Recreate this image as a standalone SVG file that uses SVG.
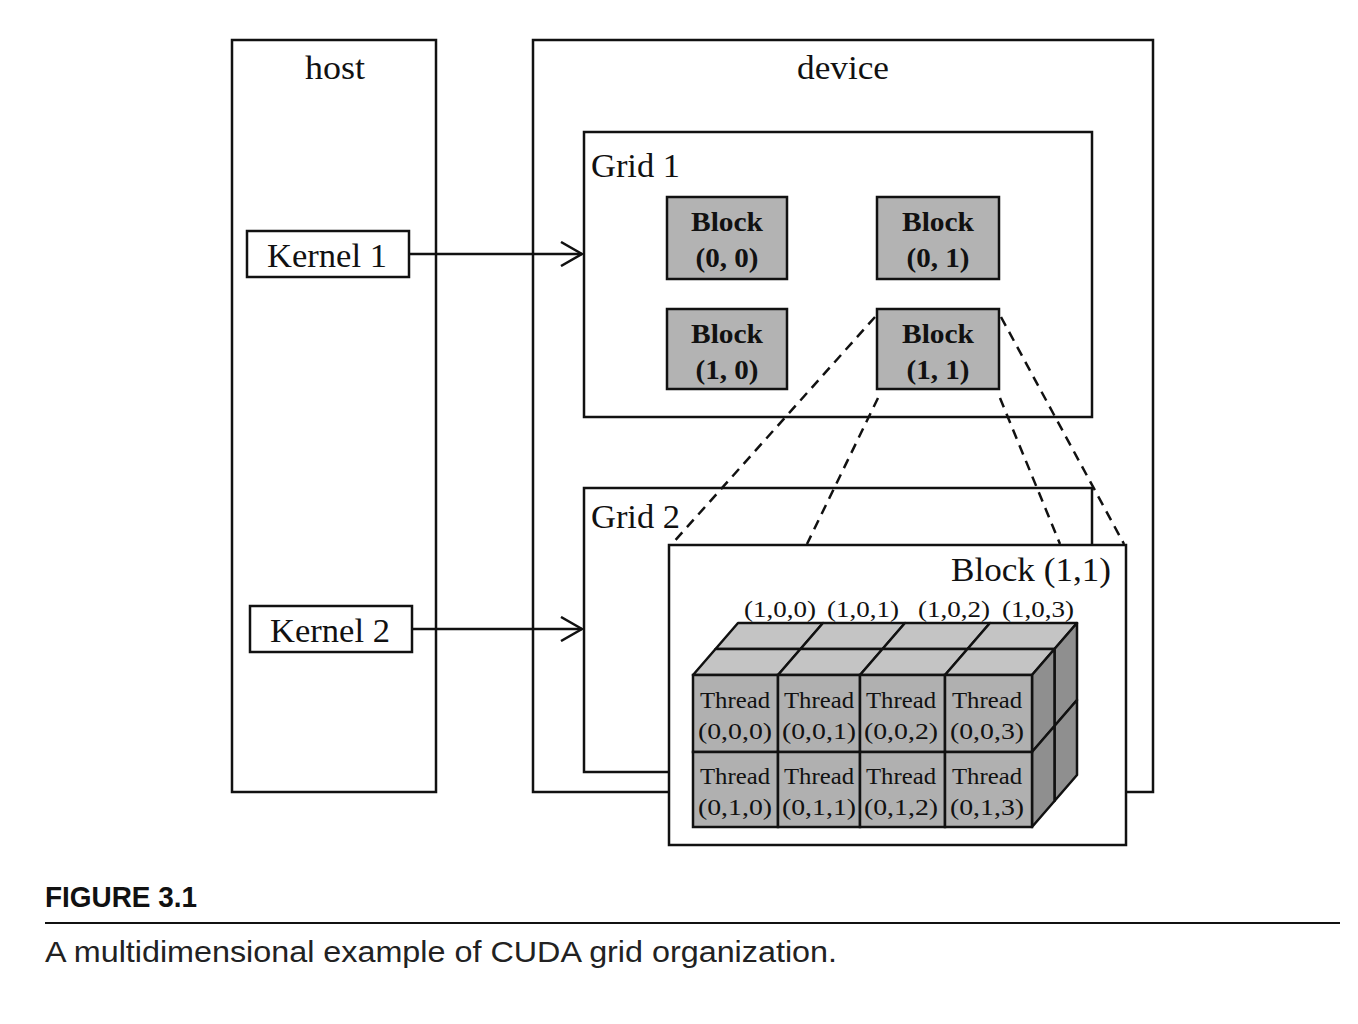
<svg xmlns="http://www.w3.org/2000/svg" width="1358" height="1024" viewBox="0 0 1358 1024">
<style>
.box{fill:#fff;stroke:#111;stroke-width:2.5}
.blk{fill:#b3b3b3;stroke:#111;stroke-width:2.5}
.lbl{font-family:"Liberation Serif","Times New Roman",serif;font-size:34px;fill:#111}
.bt{font-family:"Liberation Serif","Times New Roman",serif;font-size:27px;font-weight:bold;fill:#111;text-anchor:middle}
.th{font-family:"Liberation Serif","Times New Roman",serif;font-size:24px;fill:#111;text-anchor:middle}
.idx{font-family:"Liberation Serif","Times New Roman",serif;font-size:23px;fill:#111;text-anchor:middle}
.top{fill:#c4c4c4;stroke:#111;stroke-width:2.5;stroke-linejoin:round}
.side{fill:#8f8f8f;stroke:#111;stroke-width:2.5;stroke-linejoin:round}
.front{fill:#b0b0b0;stroke:#111;stroke-width:2.5}
.dash{stroke:#111;stroke-width:2.5;stroke-dasharray:10,7;fill:none}
.conn{stroke:#111;stroke-width:2.5;fill:none}
</style>
<defs>
<marker id="arr" markerWidth="24" markerHeight="26" refX="22" refY="13" orient="auto" markerUnits="userSpaceOnUse">
<path d="M1,1 L22,13 L1,25" fill="none" stroke="#111" stroke-width="2.5"/>
</marker>
</defs>
<rect width="1358" height="1024" fill="#fff"/>

<g id="host">
<rect class="box" x="232" y="40" width="204" height="752"/>
<text class="lbl" x="335" y="79" text-anchor="middle" textLength="60" lengthAdjust="spacingAndGlyphs">host</text>
</g>
<g id="device">
<rect class="box" x="533" y="40" width="620" height="752"/>
<text class="lbl" x="843" y="79" text-anchor="middle" textLength="92" lengthAdjust="spacingAndGlyphs">device</text>
</g>
<g id="grid1">
<rect class="box" x="584" y="132" width="508" height="285"/>
<text class="lbl" x="591" y="177" textLength="89" lengthAdjust="spacingAndGlyphs">Grid 1</text>
</g>
<g id="block00">
<rect class="blk" x="667" y="197" width="120" height="82"/>
<text class="bt" x="727" y="231" textLength="72" lengthAdjust="spacingAndGlyphs">Block</text>
<text class="bt" x="727" y="267" textLength="63" lengthAdjust="spacingAndGlyphs">(0, 0)</text>
</g>
<g id="block01">
<rect class="blk" x="877" y="197" width="122" height="82"/>
<text class="bt" x="938" y="231" textLength="72" lengthAdjust="spacingAndGlyphs">Block</text>
<text class="bt" x="938" y="267" textLength="63" lengthAdjust="spacingAndGlyphs">(0, 1)</text>
</g>
<g id="block10">
<rect class="blk" x="667" y="309" width="120" height="80"/>
<text class="bt" x="727" y="343" textLength="72" lengthAdjust="spacingAndGlyphs">Block</text>
<text class="bt" x="727" y="379" textLength="63" lengthAdjust="spacingAndGlyphs">(1, 0)</text>
</g>
<g id="block11">
<rect class="blk" x="877" y="309" width="122" height="80"/>
<text class="bt" x="938" y="343" textLength="72" lengthAdjust="spacingAndGlyphs">Block</text>
<text class="bt" x="938" y="379" textLength="63" lengthAdjust="spacingAndGlyphs">(1, 1)</text>
</g>
<g id="grid2">
<rect class="box" x="584" y="488" width="508" height="284"/>
<text class="lbl" x="591" y="528" textLength="89" lengthAdjust="spacingAndGlyphs">Grid 2</text>
</g>
<g id="kernel1">
<rect class="box" x="247" y="231" width="162" height="46"/>
<text class="lbl" x="327" y="267" text-anchor="middle" textLength="120" lengthAdjust="spacingAndGlyphs">Kernel 1</text>
</g>
<g id="kernel2">
<rect class="box" x="250" y="606" width="162" height="46"/>
<text class="lbl" x="330" y="642" text-anchor="middle" textLength="120" lengthAdjust="spacingAndGlyphs">Kernel 2</text>
</g>

<g id="connectors">
<line class="conn" x1="409" y1="254" x2="582" y2="254" marker-end="url(#arr)"/>
<line class="conn" x1="412" y1="629" x2="582" y2="629" marker-end="url(#arr)"/>
<line class="dash" x1="875" y1="317" x2="671" y2="545"/>
<line class="dash" x1="878" y1="398" x2="807" y2="544"/>
<line class="dash" x1="1000" y1="398" x2="1060" y2="544"/>
<line class="dash" x1="1001" y1="317" x2="1124" y2="544"/>
</g>

<g id="blockDetail">
<rect class="box" x="669" y="545" width="457" height="300"/>
<text class="lbl" x="1111" y="581" text-anchor="end" textLength="160" lengthAdjust="spacingAndGlyphs">Block (1,1)</text>
<text class="idx" x="780" y="617" textLength="72" lengthAdjust="spacingAndGlyphs">(1,0,0)</text>
<text class="idx" x="863" y="617" textLength="72" lengthAdjust="spacingAndGlyphs">(1,0,1)</text>
<text class="idx" x="954" y="617" textLength="72" lengthAdjust="spacingAndGlyphs">(1,0,2)</text>
<text class="idx" x="1038" y="617" textLength="72" lengthAdjust="spacingAndGlyphs">(1,0,3)</text>
<!-- top faces back layer -->
<polygon class="top" points="715.5,649 800.5,649 823,623 738,623"/>
<polygon class="top" points="800.5,649 882.5,649 905,623 823,623"/>
<polygon class="top" points="882.5,649 967.5,649 990,623 905,623"/>
<polygon class="top" points="967.5,649 1054.5,649 1077,623 990,623"/>
<!-- top faces front layer -->
<polygon class="top" points="693,675 778,675 800.5,649 715.5,649"/>
<polygon class="top" points="778,675 860,675 882.5,649 800.5,649"/>
<polygon class="top" points="860,675 945,675 967.5,649 882.5,649"/>
<polygon class="top" points="945,675 1032,675 1054.5,649 967.5,649"/>
<!-- right faces back layer -->
<polygon class="side" points="1054.5,649 1077,623 1077,700 1054.5,726"/>
<polygon class="side" points="1054.5,726 1077,700 1077,775 1054.5,801"/>
<!-- right faces front layer -->
<polygon class="side" points="1032,675 1054.5,649 1054.5,726 1032,752"/>
<polygon class="side" points="1032,752 1054.5,726 1054.5,801 1032,827"/>
<!-- front faces -->
<rect class="front" x="693" y="675" width="85" height="77"/>
<rect class="front" x="778" y="675" width="82" height="77"/>
<rect class="front" x="860" y="675" width="85" height="77"/>
<rect class="front" x="945" y="675" width="87" height="77"/>
<rect class="front" x="693" y="752" width="85" height="75"/>
<rect class="front" x="778" y="752" width="82" height="75"/>
<rect class="front" x="860" y="752" width="85" height="75"/>
<rect class="front" x="945" y="752" width="87" height="75"/>
<text class="th" x="735" y="708" textLength="70" lengthAdjust="spacingAndGlyphs">Thread</text>
<text class="th" x="735" y="739" textLength="74" lengthAdjust="spacingAndGlyphs">(0,0,0)</text>
<text class="th" x="819" y="708" textLength="70" lengthAdjust="spacingAndGlyphs">Thread</text>
<text class="th" x="819" y="739" textLength="74" lengthAdjust="spacingAndGlyphs">(0,0,1)</text>
<text class="th" x="901" y="708" textLength="70" lengthAdjust="spacingAndGlyphs">Thread</text>
<text class="th" x="901" y="739" textLength="74" lengthAdjust="spacingAndGlyphs">(0,0,2)</text>
<text class="th" x="987" y="708" textLength="70" lengthAdjust="spacingAndGlyphs">Thread</text>
<text class="th" x="987" y="739" textLength="74" lengthAdjust="spacingAndGlyphs">(0,0,3)</text>
<text class="th" x="735" y="784" textLength="70" lengthAdjust="spacingAndGlyphs">Thread</text>
<text class="th" x="735" y="815" textLength="74" lengthAdjust="spacingAndGlyphs">(0,1,0)</text>
<text class="th" x="819" y="784" textLength="70" lengthAdjust="spacingAndGlyphs">Thread</text>
<text class="th" x="819" y="815" textLength="74" lengthAdjust="spacingAndGlyphs">(0,1,1)</text>
<text class="th" x="901" y="784" textLength="70" lengthAdjust="spacingAndGlyphs">Thread</text>
<text class="th" x="901" y="815" textLength="74" lengthAdjust="spacingAndGlyphs">(0,1,2)</text>
<text class="th" x="987" y="784" textLength="70" lengthAdjust="spacingAndGlyphs">Thread</text>
<text class="th" x="987" y="815" textLength="74" lengthAdjust="spacingAndGlyphs">(0,1,3)</text>
</g>

<g id="caption">
<text x="45" y="907" font-family="'Liberation Sans',Arial,sans-serif" font-size="30" font-weight="bold" fill="#111" textLength="152" lengthAdjust="spacingAndGlyphs">FIGURE 3.1</text>
<line x1="45" y1="923" x2="1340" y2="923" stroke="#111" stroke-width="2"/>
<text x="45" y="962" font-family="'Liberation Sans',Arial,sans-serif" font-size="30" fill="#222" textLength="792" lengthAdjust="spacingAndGlyphs">A multidimensional example of CUDA grid organization.</text>
</g>
</svg>
